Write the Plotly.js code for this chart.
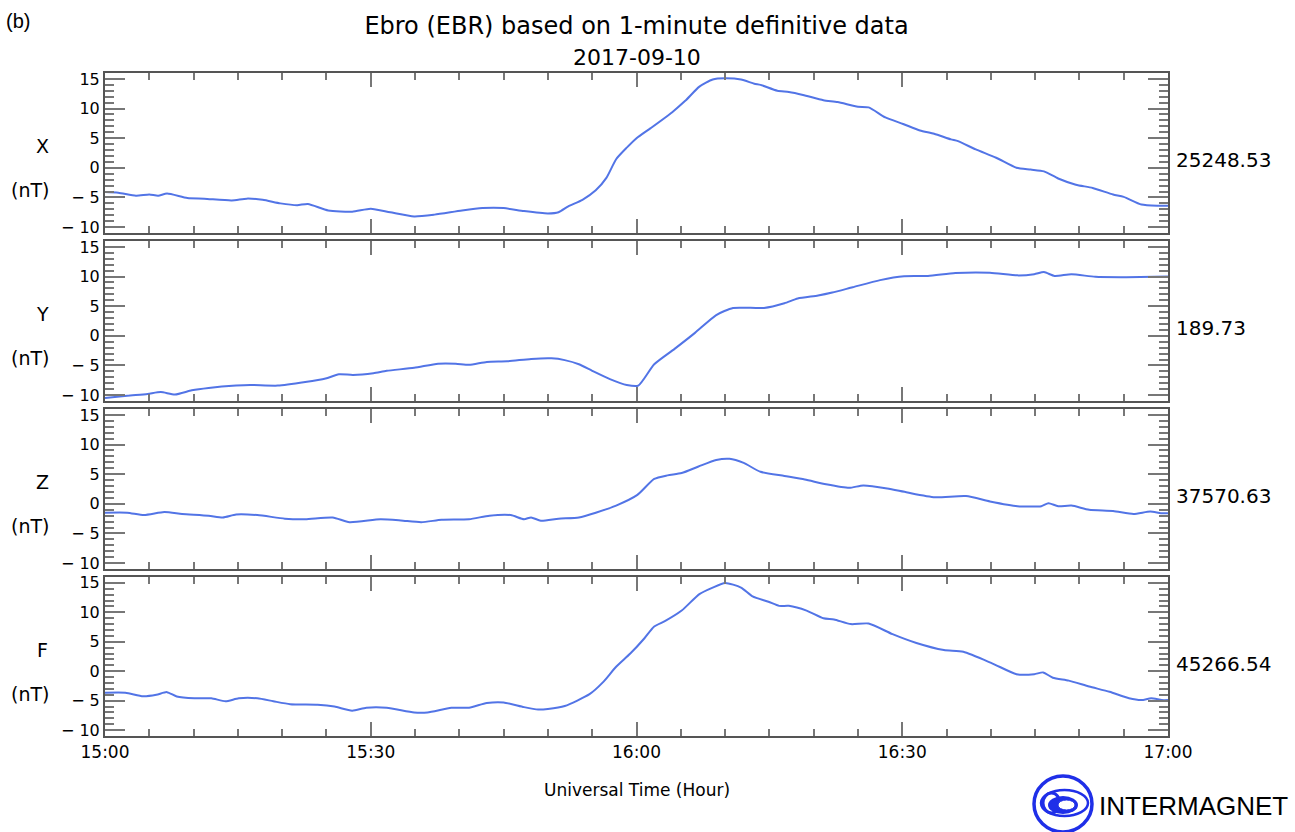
<!DOCTYPE html>
<html>
<head>
<meta charset="utf-8">
<script src="https://cdn.plot.ly/plotly-3.0.1.min.js"></script>
<style>html,body{margin:0;padding:0;background:#fff}#chart{width:1295px;height:832px}</style>
</head>
<body>
<div id="chart"></div>
<script>
// ---- data (minutes after 15:00 UT, nT deviation from baseline) ----
const mX = [0,1.5,3.5,5,6,7,9.3,11.2,14.3,16,17.8,19.8,21.7,22.9,25.2,27.9,30,32.2,34.9,37.2,40.3,42.6,45,47.3,50,51.2,52.3,53.9,55.4,56.6,57.7,58.9,60,61.6,64,65.5,67.1,68.6,70,71.8,73.3,74,75.9,77.2,78.8,81.1,82.7,85,86.2,88.1,90.1,92,93.6,95.5,96.3,98.3,100.6,102.9,104.5,106,107.6,109.6,111.5,113.8,115,117,118.9,120];
const vX = [-4.1,-4.2,-4.7,-4.5,-4.7,-4.35,-5.1,-5.2,-5.5,-5.2,-5.4,-6.0,-6.3,-6.1,-7.2,-7.4,-6.9,-7.5,-8.2,-7.9,-7.2,-6.8,-6.8,-7.3,-7.7,-7.5,-6.5,-5.4,-3.8,-1.7,1.45,3.4,5.0,6.7,9.35,11.3,13.7,14.9,15.1,14.9,14.2,14.0,13.0,12.8,12.3,11.4,11.1,10.3,10.2,8.5,7.4,6.3,5.75,4.8,4.5,3.1,1.7,0,-0.3,-0.6,-1.8,-2.85,-3.4,-4.5,-4.9,-6.2,-6.4,-6.4];

const mY = [0,2.5,4.8,6.3,7.9,9.8,11.7,14.8,16.4,19.5,22.6,24.9,26.4,28,30.3,31.8,34.9,37.6,39.6,41.1,43.1,45.4,48.1,50.4,51.9,53.5,55,57,58.9,60.2,62,64.3,66.6,69,70.9,74.4,76.7,78.2,80.5,82.1,84.4,87.5,90.2,92.9,96,99.9,103,104.9,106,107.2,109.1,111.8,115.3,120];
const vY = [-10.5,-10.1,-9.8,-9.5,-9.9,-9.2,-8.8,-8.4,-8.3,-8.4,-7.8,-7.2,-6.5,-6.6,-6.3,-5.9,-5.4,-4.7,-4.7,-4.9,-4.4,-4.3,-3.9,-3.8,-4.1,-4.8,-5.9,-7.3,-8.3,-8.4,-4.8,-2.2,0.5,3.5,4.7,4.7,5.5,6.3,6.8,7.3,8.2,9.4,10.05,10.1,10.6,10.65,10.2,10.4,10.75,10.1,10.4,9.95,9.9,10.0];

const mZ = [0,2.5,4.4,6.7,8.7,11.7,13.3,14.8,17.2,20.3,22.6,25.7,27.6,31.1,33.4,35.7,38,41.1,43.4,45.8,47.3,48.1,49.2,51.2,53.5,55.4,57.7,60.1,62,63.5,65.1,67,69,70.5,72.1,74,76.7,79,81.4,84,85.6,88.3,90.6,93.7,97.2,99.9,103,105.7,106.5,107.6,109.1,111.1,113.8,116.1,118,119.2,120];
const vZ = [-1.5,-1.5,-1.9,-1.4,-1.7,-2.0,-2.3,-1.8,-1.9,-2.5,-2.6,-2.3,-3.1,-2.6,-2.8,-3.1,-2.7,-2.6,-2.0,-1.9,-2.6,-2.3,-2.85,-2.5,-2.3,-1.5,-0.3,1.5,4.2,4.8,5.2,6.3,7.4,7.6,6.9,5.4,4.7,4.1,3.3,2.7,3.1,2.6,1.9,1.1,1.3,0.4,-0.4,-0.4,0.1,-0.4,-0.3,-1.0,-1.2,-1.7,-1.3,-1.6,-1.6];

const mF = [0,2.3,4.3,5.8,7,8.1,10.1,12,13.6,15.1,17.2,19,20.9,24,25.9,27.9,29.5,31.8,34.9,36.4,39.1,41.1,43.1,45,47.3,48.9,50,51.9,54.7,56.2,57.7,59.3,60.9,62,63.2,65.1,67.1,68.6,70,71.8,73.1,74.9,76.1,77.2,79.2,81.1,82.3,84.2,86.2,88.9,91.6,94.7,96.9,100.2,102.9,104.9,105.9,107,108.8,111.1,113.4,115.6,117,118.1,119.3,120];
const vF = [-3.65,-3.65,-4.25,-4.0,-3.55,-4.3,-4.6,-4.6,-5.1,-4.6,-4.6,-5.1,-5.6,-5.7,-6.0,-6.7,-6.2,-6.2,-7.0,-7.0,-6.2,-6.2,-5.4,-5.3,-6.1,-6.5,-6.4,-5.9,-3.9,-1.9,0.75,3.0,5.6,7.6,8.5,10.3,13.1,14.2,15.0,14.2,12.7,11.8,11.1,11.1,10.3,9.0,8.8,8.0,8.1,6.3,4.8,3.6,3.3,1.3,-0.5,-0.5,-0.2,-1.1,-1.6,-2.6,-3.5,-4.6,-4.9,-4.6,-4.9,-4.9];

const components = ['X','Y','Z','F'];
const baselines = ['25248.53','189.73','37570.63','45266.54'];
const timeTickVals = [0,30,60,90,120];
const timeTickText = ['15:00','15:30','16:00','16:30','17:00'];
const yTickVals = [-10,-5,0,5,10,15];
const yTickText = ['\u2212 10','\u2212 5','0','5','10','15'];

const series = [[mX,vX],[mY,vY],[mZ,vZ],[mF,vF]];

// ---- layout helpers (pixel -> paper) ----
const L = 105, R = 1168, T = 73, B = 736;
const PX = x => (x - L) / (R - L);
const PY = y => (B - y) / (B - T);
const panels = [[73,233],[241,401],[409,569],[577,736]];

const FONT = 'DejaVu Sans, sans-serif';
const lineColor = '#5274e6';
const traces = [];
const layout = {
  width: 1295, height: 832,
  margin: {l: L, r: 1295 - R, t: T, b: 832 - B},
  paper_bgcolor: '#fff', plot_bgcolor: '#fff',
  showlegend: false,
  font: {family: FONT, color: '#000', size: 15},
  title: {text: 'Ebro (EBR) based on 1-minute definitive data', xref: 'paper', x: 0.5, xanchor: 'center',
          yref: 'container', y: 1 - 26/832, yanchor: 'middle', font: {family: FONT, size: 24, color: '#000'}},
  annotations: [], shapes: []
};

series.forEach((s, i) => {
  const n = i + 1;
  const xa = n === 1 ? 'xaxis' : 'xaxis' + n;
  const ya = n === 1 ? 'yaxis' : 'yaxis' + n;
  const xr = n === 1 ? 'x' : 'x' + n;
  const yr = n === 1 ? 'y' : 'y' + n;
  traces.push({x: s[0], y: s[1], xaxis: xr, yaxis: yr, type: 'scatter', mode: 'lines',
               line: {color: lineColor, width: 2, shape: 'spline', smoothing: 0.6}, hoverinfo: 'skip'});
  const [top, bot] = panels[i];
  layout[xa] = {
    domain: [0, 1], anchor: yr, range: [0, 120], showgrid: false, zeroline: false,
    tickvals: timeTickVals, ticktext: timeTickText, showticklabels: n === 4,
    ticks: 'inside', ticklen: 14, tickwidth: 2, tickcolor: '#777',
    minor: {dtick: 5, tick0: 0, ticks: 'inside', ticklen: 7, tickwidth: 2, tickcolor: '#777'},
    showline: true, linecolor: '#555', linewidth: 2, mirror: 'allticks',
    tickfont: {family: FONT, size: 17, color: '#000'}
  };
  layout[ya] = {
    domain: [PY(bot), PY(top)], anchor: xr, range: [-11, 16], showgrid: false, zeroline: false,
    tickvals: yTickVals, ticktext: yTickText,
    ticks: 'inside', ticklen: 20, tickwidth: 2, tickcolor: '#777',
    minor: {dtick: 1, tick0: 0, ticks: 'inside', ticklen: 9, tickwidth: 2, tickcolor: '#777'},
    showline: true, linecolor: '#555', linewidth: 2, mirror: 'allticks',
    tickfont: {family: FONT, size: 16, color: '#000'}
  };
  layout.annotations.push(
    {text: components[i], xref: 'paper', yref: 'paper', x: PX(42), y: PY(top + 73), showarrow: false,
     xanchor: 'center', yanchor: 'middle', font: {family: FONT, size: 19}},
    {text: '(nT)', xref: 'paper', yref: 'paper', x: PX(30), y: PY(top + 117), showarrow: false,
     xanchor: 'center', yanchor: 'middle', font: {family: FONT, size: 19}},
    {text: baselines[i], xref: 'paper', yref: 'paper', x: PX(1174), y: PY(top + 87), showarrow: false,
     xanchor: 'left', yanchor: 'middle', font: {family: FONT, size: 20}}
  );
});

layout.annotations.push(
  {text: '2017-09-10', xref: 'paper', yref: 'paper', x: 0.5, y: PY(57), showarrow: false,
   xanchor: 'center', yanchor: 'middle', font: {family: FONT, size: 22}},
  {text: 'Universal Time (Hour)', xref: 'paper', yref: 'paper', x: 0.5, y: PY(790), showarrow: false,
   xanchor: 'center', yanchor: 'middle', font: {family: FONT, size: 17}},
  {text: '(b)', xref: 'paper', yref: 'paper', x: PX(4), y: PY(21), showarrow: false,
   xanchor: 'left', yanchor: 'middle', font: {family: 'Liberation Sans, Arial, sans-serif', size: 20}},
  {text: 'INTERMAGNET', xref: 'paper', yref: 'paper', x: PX(1097), y: PY(806), showarrow: false,
   xanchor: 'left', yanchor: 'middle', font: {family: 'Liberation Sans, Arial, sans-serif', size: 26}}
);

// logo
const blue = '#1f2fe8';
function ell(x0, y0, x1, y1, opts) {
  return Object.assign({type: 'circle', xref: 'paper', yref: 'paper',
    x0: PX(x0), x1: PX(x1), y0: PY(y1), y1: PY(y0)}, opts);
}
layout.shapes.push(
  ell(1034, 776, 1092, 832, {line: {color: blue, width: 3.5}, fillcolor: 'rgba(0,0,0,0)'}),
  ell(1041, 790, 1088, 816, {line: {color: blue, width: 2.5}, fillcolor: 'rgba(0,0,0,0)'}),
  ell(1043, 793, 1060, 813, {line: {color: blue, width: 3}, fillcolor: 'rgba(0,0,0,0)'}),
  ell(1048, 796, 1078, 814, {line: {color: blue, width: 0}, fillcolor: blue}),
  ell(1058, 800, 1075, 810, {line: {color: blue, width: 1}, fillcolor: '#fff'})
);

Plotly.newPlot('chart', traces, layout, {displayModeBar: false, staticPlot: true});
</script>
</body>
</html>
